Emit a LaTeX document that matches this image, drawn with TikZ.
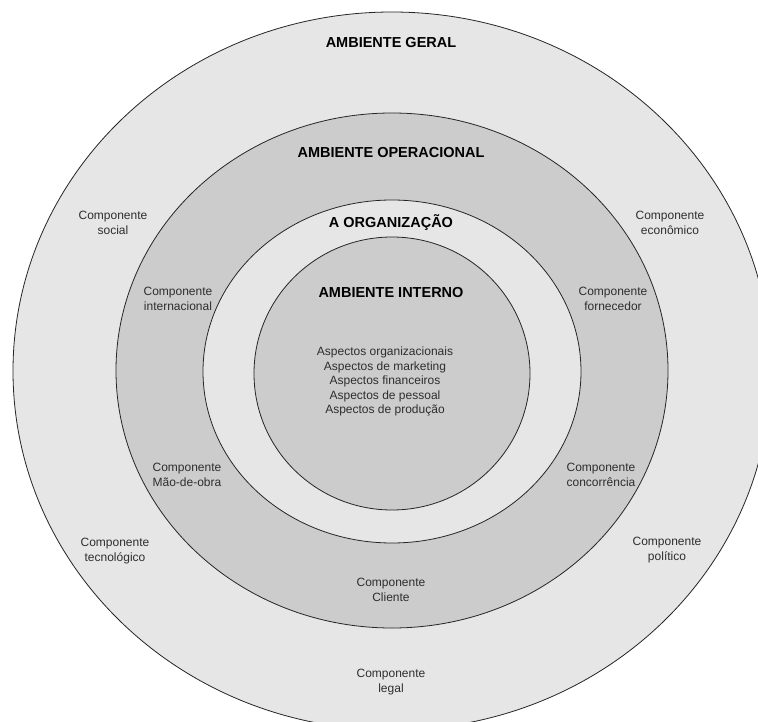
\documentclass[tikz,border=0pt]{standalone}
\usepackage{fontspec}
\setmainfont{Liberation Sans}
\definecolor{ringlight}{HTML}{E6E6E6}
\definecolor{ringdark}{HTML}{CCCCCC}
\definecolor{edgecol}{HTML}{262626}
\definecolor{txtcol}{HTML}{2E2E2E}
\tikzset{
  ring/.style={draw=edgecol, line width=0.8pt},
  titlelbl/.style={inner sep=0pt, font=\fontsize{14.5}{17}\selectfont\bfseries, text=black},
  complbl/.style={inner sep=0pt, align=center, font=\fontsize{12}{15}\selectfont, text=txtcol},
  asplbl/.style={inner sep=0pt, align=center, font=\fontsize{12}{14.5}\selectfont, text=txtcol}
}
\begin{document}
\begin{tikzpicture}[x=1pt,y=-1pt]
\useasboundingbox (0,0) rectangle (758,722);
\fill[white] (0,0) rectangle (758,722);
\begin{scope}
\clip (0,0) rectangle (758,722);
\filldraw[ring, fill=ringlight] (392,371) ellipse [x radius=379pt, y radius=359pt];
\filldraw[ring, fill=ringdark] (392,370.5) ellipse [x radius=276pt, y radius=257.5pt];
\filldraw[ring, fill=ringlight] (392,371.5) ellipse [x radius=189pt, y radius=171.5pt];
\filldraw[ring, fill=ringdark] (392,373.5) ellipse [x radius=138pt, y radius=136.5pt];
\end{scope}

\node[titlelbl] (geral) at (391,43) {AMBIENTE GERAL};
\node[titlelbl] (oper) at (391,153) {AMBIENTE OPERACIONAL};
\node[titlelbl] (org) at (391,223) {A ORGANIZAÇÃO};
\node[titlelbl] (interno) at (391,293) {AMBIENTE INTERNO};

\node[asplbl] (aspectos) at (385,381.7) {Aspectos organizacionais\\Aspectos de marketing\\Aspectos financeiros\\Aspectos de pessoal\\Aspectos de produção};

\node[complbl] (social) at (113,223) {Componente\\social};
\node[complbl] (economico) at (670,223) {Componente\\econômico};
\node[complbl] (internacional) at (178,299) {Componente\\internacional};
\node[complbl] (fornecedor) at (613,298.5) {Componente\\fornecedor};
\node[complbl] (maodeobra) at (187,475) {Componente\\Mão-de-obra};
\node[complbl] (concorrencia) at (601,475) {Componente\\concorrência};
\node[complbl] (tecnologico) at (115,551.5) {Componente\\tecnológico};
\node[complbl] (politico) at (667,550.5) {Componente\\político};
\node[complbl] (cliente) at (391,589.5) {Componente\\Cliente};
\node[complbl] (legal) at (391,682) {Componente\\legal};
\end{tikzpicture}
\end{document}
